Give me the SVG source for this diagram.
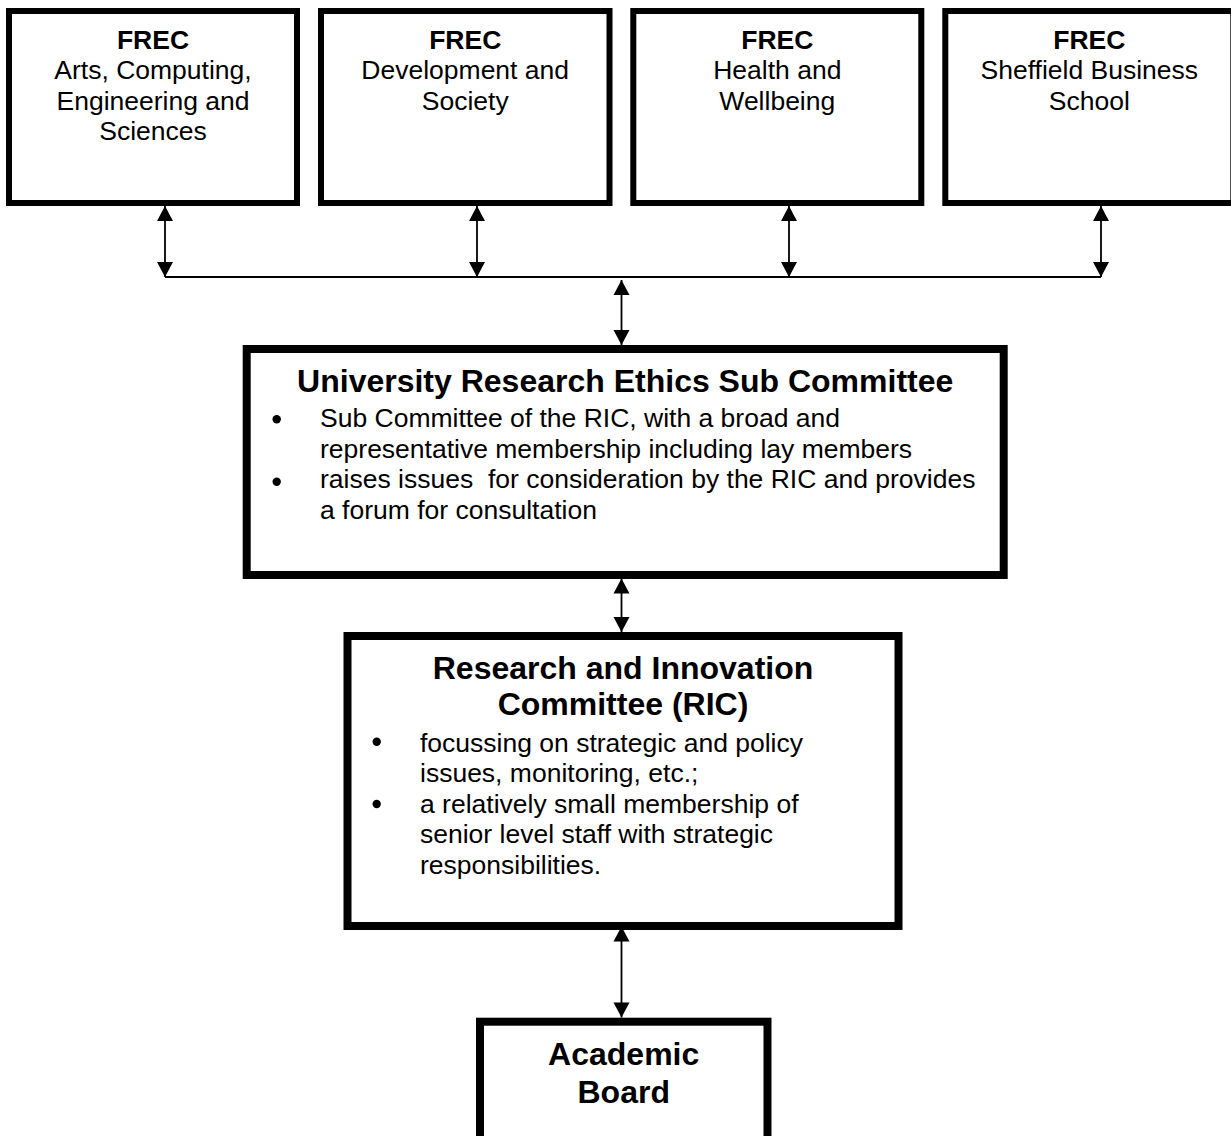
<svg xmlns="http://www.w3.org/2000/svg" width="1231" height="1136" viewBox="0 0 1231 1136">
<defs>
<marker id="ah" markerUnits="userSpaceOnUse" markerWidth="16" markerHeight="17" refX="15" refY="8" orient="auto-start-reverse" overflow="visible">
<path d="M0,0 L15,8 L0,16 Z" fill="#000"/>
</marker>
<style>
.box{fill:#fff;stroke:#000;stroke-width:6}
.bbox{fill:#fff;stroke:#000;stroke-width:8}
.t{font-family:"Liberation Sans",Arial,sans-serif;font-size:26.5px;fill:#000}
.c{text-anchor:middle}
.b{font-weight:bold}
.h{font-family:"Liberation Sans",Arial,sans-serif;font-size:32px;font-weight:bold;fill:#000;text-anchor:middle}
.ln{stroke:#000;stroke-width:1.8;fill:none}
.ar{stroke:#000;stroke-width:1.8;fill:none;marker-start:url(#ah);marker-end:url(#ah)}
.pre{white-space:pre}
</style>
</defs>
<rect width="1231" height="1136" fill="#fff"/>
<g id="connectors">
<line class="ln" x1="165" y1="277" x2="1101" y2="277"/>
<line class="ar" x1="165" y1="206" x2="165" y2="277"/>
<line class="ar" x1="477" y1="206" x2="477" y2="277"/>
<line class="ar" x1="789" y1="206" x2="789" y2="277"/>
<line class="ar" x1="1101" y1="206" x2="1101" y2="277"/>
<line class="ar" x1="621.5" y1="280" x2="621.5" y2="345"/>
<line class="ar" x1="621.5" y1="578.5" x2="621.5" y2="632"/>
<line class="ar" x1="621.5" y1="926.5" x2="621.5" y2="1017.5"/>
</g>
<g id="frec1">
<rect class="box" x="9" y="11" width="288" height="192"/>
<text class="t c" x="153" y="48.5"><tspan class="b">FREC</tspan><tspan x="153" y="79">Arts, Computing,</tspan><tspan x="153" y="109.5">Engineering and</tspan><tspan x="153" y="140">Sciences</tspan></text>
</g>
<g id="frec2">
<rect class="box" x="321" y="11" width="288.5" height="192"/>
<text class="t c" x="465.2" y="48.5"><tspan class="b">FREC</tspan><tspan x="465.2" y="79">Development and</tspan><tspan x="465.2" y="109.5">Society</tspan></text>
</g>
<g id="frec3">
<rect class="box" x="633.3" y="11" width="288" height="192"/>
<text class="t c" x="777.3" y="48.5"><tspan class="b">FREC</tspan><tspan x="777.3" y="79">Health and</tspan><tspan x="777.3" y="109.5">Wellbeing</tspan></text>
</g>
<g id="frec4">
<rect class="box" x="945.3" y="11" width="288" height="192"/>
<text class="t c" x="1089.3" y="48.5"><tspan class="b">FREC</tspan><tspan x="1089.3" y="79">Sheffield Business</tspan><tspan x="1089.3" y="109.5">School</tspan></text>
</g>
<g id="uresc">
<rect class="bbox" x="246.7" y="349" width="757" height="226"/>
<text class="h" x="625.2" y="392">University Research Ethics Sub Committee</text>
<circle cx="276.7" cy="419.3" r="4.2"/>
<circle cx="276.7" cy="481.7" r="4.2"/>
<text class="t" x="320" y="427">Sub Committee of the RIC, with a broad and<tspan x="320" y="457.5">representative membership including lay members</tspan><tspan class="pre" x="320" y="488">raises issues  for consideration by the RIC and provides</tspan><tspan x="320" y="518.5">a forum for consultation</tspan></text>
</g>
<g id="ric">
<rect class="bbox" x="347.5" y="636" width="551" height="290"/>
<text class="h" x="623" y="679">Research and Innovation<tspan x="623" y="715">Committee (RIC)</tspan></text>
<circle cx="376.7" cy="741.7" r="4.2"/>
<circle cx="376.7" cy="804" r="4.2"/>
<text class="t" x="420" y="751.5">focussing on strategic and policy<tspan x="420" y="782">issues, monitoring, etc.;</tspan><tspan x="420" y="812.5">a relatively small membership of</tspan><tspan x="420" y="843">senior level staff with strategic</tspan><tspan x="420" y="873.5">responsibilities.</tspan></text>
</g>
<g id="academic">
<rect class="bbox" x="480" y="1021.7" width="287.5" height="130"/>
<text class="h" x="623.7" y="1065">Academic<tspan x="623.7" y="1102.5">Board</tspan></text>
</g>
</svg>
